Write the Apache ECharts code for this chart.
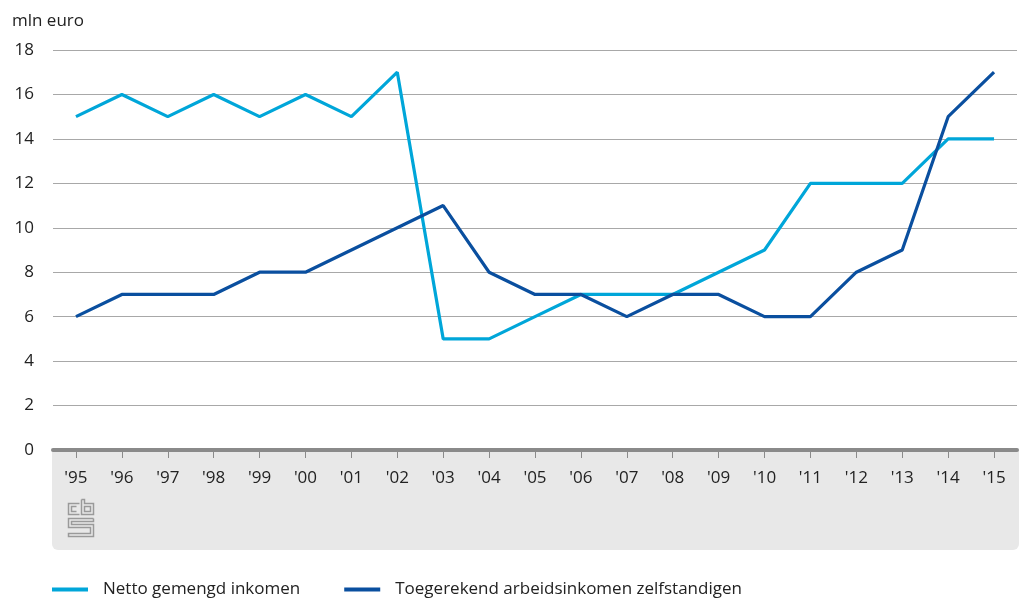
<!DOCTYPE html>
<html>
<head>
<meta charset="utf-8">
<script src="https://cdn.jsdelivr.net/npm/echarts@6/dist/echarts.min.js"></script>
<style>
  html, body { margin: 0; padding: 0; background: #fff; }
  #chart { width: 1019px; height: 598px; }
</style>
</head>
<body>
<div id="chart"></div>
<script>
// 年份（类目）
var years = ["'95", "'96", "'97", "'98", "'99", "'00", "'01", "'02", "'03", "'04", "'05",
             "'06", "'07", "'08", "'09", "'10", "'11", "'12", "'13", "'14", "'15"];

// 数值（mln euro）
var nettoGemengd = [15, 16, 15, 16, 15, 16, 15, 17, 5, 5, 6, 7, 7, 7, 8, 9, 12, 12, 12, 14, 14];
var toegerekend = [6, 7, 7, 7, 8, 8, 9, 10, 11, 8, 7, 7, 6, 7, 7, 6, 6, 8, 9, 15, 17];

var seriesNames = ['Netto gemengd inkomen', 'Toegerekend arbeidsinkomen zelfstandigen'];
var FONT = '"Open Sans", "Noto Sans", sans-serif';

(function () {
    var chart = echarts.init(document.getElementById('chart'));

    // cbs 标志（简化的线框）
    var logoStyle = { fill: 'none', stroke: '#9a9a9a', lineWidth: 1.5 };
    var logo = {
        type: 'group',
        left: 66,
        top: 497,
        children: [
            { type: 'polyline', shape: { points: [[11, 4], [0, 4], [0, 15], [11, 15]] }, style: logoStyle },
            { type: 'polyline', shape: { points: [[8, 7], [3, 7], [3, 12], [8, 12]] }, style: logoStyle },
            { type: 'polyline', shape: { points: [[13, 0], [13, 15], [25, 15], [25, 4], [16, 4], [16, 0], [13, 0]] }, style: logoStyle },
            { type: 'rect', shape: { x: 16, y: 7, width: 6, height: 5 }, style: logoStyle },
            { type: 'polyline', shape: { points: [[25, 19], [0, 19], [0, 28], [22, 28], [22, 34], [0, 34], [0, 37], [25, 37], [25, 25], [3, 25], [3, 22], [25, 22], [25, 19]] }, style: logoStyle }
        ]
    };

    var option = {
        animation: false,
        color: ['#00a6d9', '#0a4f9f'],
        textStyle: { fontFamily: FONT },
        grid: { left: 53, right: 2, top: 50, height: 400, containLabel: false },
        graphic: [
            // 横轴下方的灰色区域
            {
                type: 'rect',
                left: 52, top: 450, z: -10,
                shape: { width: 967, height: 100, r: [0, 0, 6, 6] },
                style: { fill: '#e8e8e8' }
            },
            {
                type: 'text',
                left: 12, top: 13,
                style: { text: 'mln euro', fill: '#222', font: '17px ' + FONT }
            },
            logo
        ],
        legend: {
            bottom: -5,
            left: 47,
            itemWidth: 36,
            itemHeight: 4,
            itemGap: 44,
            icon: 'rect',
            textStyle: { fontSize: 17, color: '#222', padding: [0, 0, 0, 10] },
            data: seriesNames
        },
        xAxis: {
            type: 'category',
            data: years,
            boundaryGap: true,
            axisLine: { show: true, lineStyle: { color: '#8a8a8a', width: 4 } },
            axisTick: { show: true, alignWithLabel: true, length: 8, lineStyle: { color: '#8a8a8a', width: 1 } },
            axisLabel: { color: '#222', fontSize: 17, margin: 20 }
        },
        yAxis: {
            type: 'value',
            min: 0,
            max: 18,
            interval: 2,
            axisLine: { show: false },
            axisTick: { show: false },
            axisLabel: { color: '#222', fontSize: 17, margin: 19 },
            splitLine: { lineStyle: { color: '#a8a8a8', width: 1 } }
        },
        series: [
            {
                name: seriesNames[0],
                type: 'line',
                data: nettoGemengd,
                symbol: 'none',
                lineStyle: { width: 3.2 }
            },
            {
                name: seriesNames[1],
                type: 'line',
                data: toegerekend,
                symbol: 'none',
                lineStyle: { width: 3.2 }
            }
        ]
    };

    chart.setOption(option);
})();
</script>
</body>
</html>
